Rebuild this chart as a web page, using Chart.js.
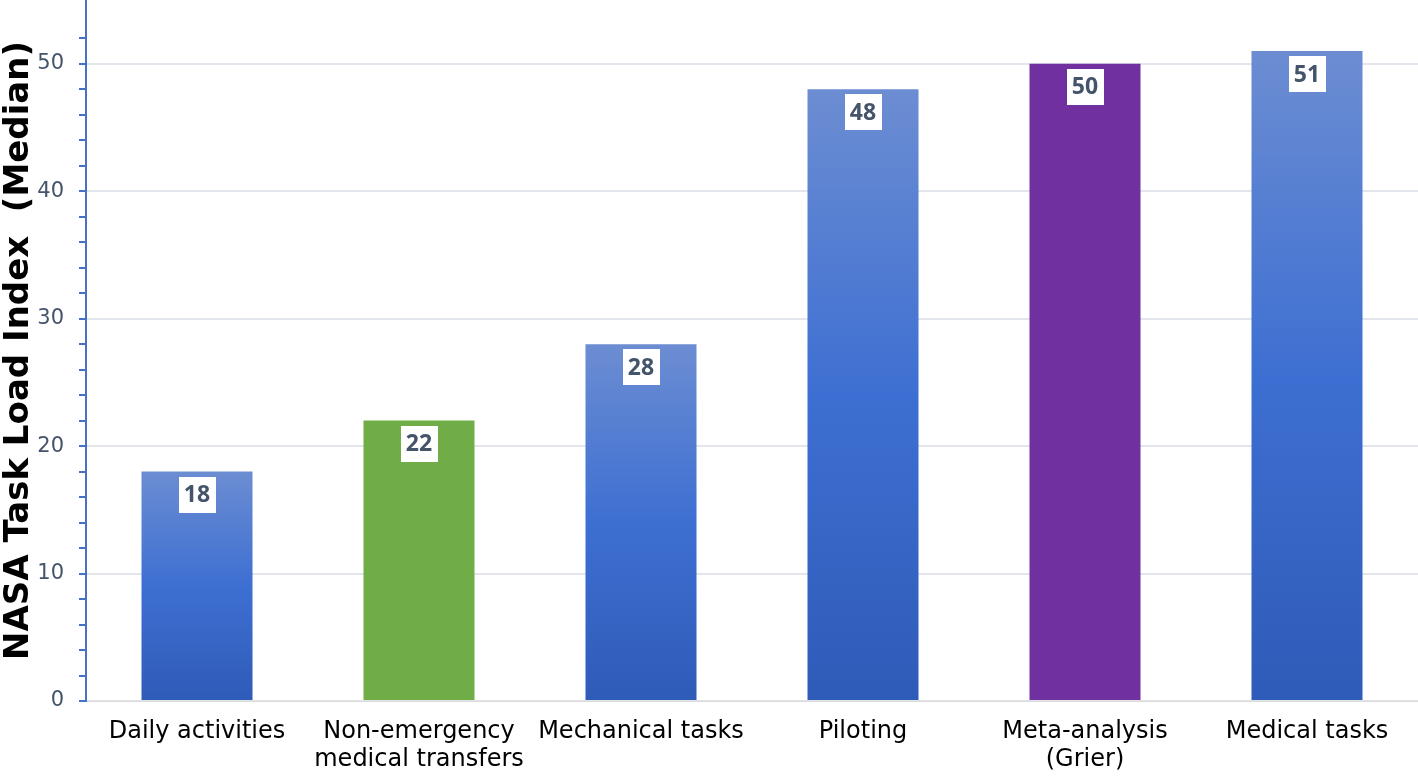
<!DOCTYPE html>
<html>
<head>
<meta charset="utf-8">
<script src="https://cdn.jsdelivr.net/npm/chart.js@4/dist/chart.umd.min.js"></script>
<style>
  html,body{margin:0;padding:0;background:#fff;overflow:hidden;}
  #wrap{width:1418px;height:778px;position:relative;}
</style>
</head>
<body>
<div id="wrap"><canvas id="c"></canvas></div>
<script>
// NASA-TLX medians by task type
const categories = ["Daily activities", ["Non-emergency","medical transfers"], "Mechanical tasks", "Piloting", ["Meta-analysis","(Grier)"], "Medical tasks"];
const medians = [18, 22, 28, 48, 50, 51];
const barKinds = ["blue", "green", "blue", "blue", "purple", "blue"];
const yTicks = [0, 10, 20, 30, 40, 50];

const AXIS_BLUE = "#4472c4";
const TICK_TEXT = "#44546a";
const SANS = "Verdana, 'DejaVu Sans', sans-serif";

function barFill(ctx){
  const kind = barKinds[ctx.dataIndex];
  if (kind==="green") return "#70ad47";
  if (kind==="purple") return "#7030a0";
  const chart = ctx.chart;
  if (!chart.chartArea) return "#4472c4";
  const y = chart.scales.y;
  const top = y.getPixelForValue(ctx.raw), bot = y.getPixelForValue(0);
  const g = chart.ctx.createLinearGradient(0, top, 0, bot);
  g.addColorStop(0, "#6c8dd2");
  g.addColorStop(0.5, "#3d6fd2");
  g.addColorStop(1, "#2f5bb8");
  return g;
}

// white boxes with the value just under the top of each bar
const valueBoxes = {
  id: "valueBoxes",
  afterDatasetsDraw(chart){
    const c = chart.ctx;
    const meta = chart.getDatasetMeta(0);
    c.save();
    c.font = "bold 23px 'Open Sans', sans-serif";
    c.textAlign = "center";
    c.textBaseline = "middle";
    meta.data.forEach((bar,i)=>{
      const w = 37, h = 36;
      const x = bar.x, y = bar.y + 5;
      c.fillStyle = "#fff";
      c.fillRect(Math.round(x - w/2), Math.round(y), w, h);
      c.fillStyle = TICK_TEXT;
      c.fillText(String(medians[i]), x, y + h/2 + 1);
    });
    c.restore();
  }
};

new Chart(document.getElementById("c"), {
  type: "bar",
  data: {
    labels: categories,
    datasets: [{ data: medians, backgroundColor: barFill, borderWidth: 0,
                 categoryPercentage: 1, barPercentage: 0.5 }]
  },
  options: {
    responsive: true,
    maintainAspectRatio: false,
    animation: false,
    layout: { padding: { top: 0, right: 0, left: 0, bottom: 0 } },
    plugins: { legend: { display: false }, tooltip: { enabled: false } },
    scales: {
      x: {
        afterFit: s => { s.height = 77; },
        grid: { display: false, drawTicks: false },
        border: { display: true, color: "#d9d9d9", width: 1 },
        ticks: { color: "#000", font: { family: SANS, size: 24, lineHeight: 1.2 },
                 padding: 16, maxRotation: 0, autoSkip: false }
      },
      y: {
        min: 0, max: 55,
        afterBuildTicks: s => { s.ticks = s.ticks.filter(t => t.value % 2 === 0); },
        afterFit: s => { s.width = 86; s.paddingTop = 0; s.paddingBottom = 0; },
        border: { display: true, color: AXIS_BLUE, width: 2 },
        grid: {
          color: c => (c.tick && yTicks.includes(c.tick.value)) ? "#e2e5ec" : "rgba(0,0,0,0)",
          lineWidth: 2,
          tickColor: AXIS_BLUE,
          tickLength: 7,
          drawTicks: true
        },
        ticks: {
          stepSize: 2,
          autoSkip: false,
          color: TICK_TEXT,
          font: { family: SANS, size: 21 },
          padding: 15,
          callback: v => yTicks.includes(v) ? String(v) : ""
        },
        title: {
          display: true,
          text: "NASA Task Load Index  (Median)",
          color: "#000",
          font: { family: SANS, size: 34, weight: "bold", lineHeight: 1.1 },
          padding: { top: 0, bottom: 0 }
        }
      }
    }
  },
  plugins: [valueBoxes]
});
</script>
</body>
</html>
